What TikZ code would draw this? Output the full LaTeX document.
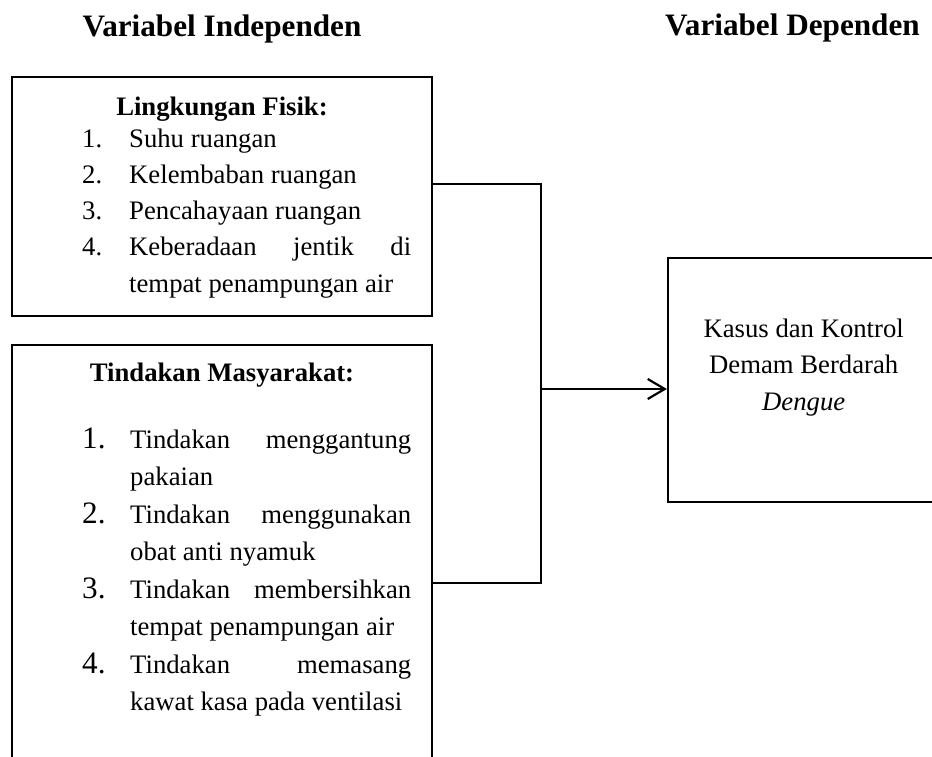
\documentclass[tikz,border=0pt]{standalone}
\usepackage{fontspec}
\setmainfont{Liberation Serif}
\usetikzlibrary{arrows.meta}
\newcommand{\bodyfont}{\fontsize{26.7pt}{36pt}\selectfont}
\newcommand{\headfont}{\fontsize{31.2pt}{38pt}\selectfont\bfseries}
\newcommand{\numfont}{\fontsize{31.2pt}{38pt}\selectfont}
\begin{document}
\begin{tikzpicture}[x=1pt,y=-1pt,
  frame/.style={draw, line width=2.2pt, inner sep=0pt},
  txt/.style={inner sep=0pt, anchor=base west, font=\bodyfont},
  ctr/.style={inner sep=0pt, anchor=base, font=\bodyfont},
  bignum/.style={inner sep=0pt, anchor=base west, font=\numfont},
  head/.style={inner sep=0pt, anchor=base, font=\headfont},
  sub/.style={inner sep=0pt, anchor=base, font=\bodyfont\bfseries},
  link/.style={line width=2.2pt}]
\useasboundingbox (0,0) rectangle (932,756);
\clip (0,0) rectangle (932,756);

% headings
\node[head] (hind) at (222,36) {Variabel Independen};
\node[head] (hdep) at (792.5,35.5) {Variabel Dependen};

% boxes
\node[frame, minimum width=420pt, minimum height=239pt] (fisik) at (222,196.5) {};
\node[frame, minimum width=420pt, minimum height=435pt] (masy) at (222,562.5) {};
\node[frame, minimum width=277pt, minimum height=244pt] (dep) at (806.5,379.7) {};

% box 1 text
\node[sub] (f0) at (222,115) {Lingkungan Fisik:};
\node[txt] (f1n) at (82,147) {1.};
\node[txt] (f1) at (129,147) {Suhu ruangan};
\node[txt] (f2n) at (82,183.3) {2.};
\node[txt] (f2) at (129,183.3) {Kelembaban ruangan};
\node[txt] (f3n) at (82,219.5) {3.};
\node[txt] (f3) at (129,219.5) {Pencahayaan ruangan};
\node[txt] (f4n) at (82,255.8) {4.};
\node[txt] (f4) at (129,255.8) {\hbox to 282pt{Keberadaan\hfill jentik\hfill di}};
\node[txt] (f4b) at (129,292) {tempat penampungan air};

% box 2 text
\node[sub] (m0) at (222,381.7) {Tindakan Masyarakat:};
\node[bignum] (m1n) at (82,448) {1.};
\node[txt] (m1) at (130,448) {\hbox to 281pt{Tindakan\hfill menggantung}};
\node[txt] (m1b) at (130,485.5) {pakaian};
\node[bignum] (m2n) at (82,523) {2.};
\node[txt] (m2) at (130,523) {\hbox to 281pt{Tindakan\hfill menggunakan}};
\node[txt] (m2b) at (130,560.5) {obat anti nyamuk};
\node[bignum] (m3n) at (82,598) {3.};
\node[txt] (m3) at (130,598) {\hbox to 281pt{Tindakan\hfill membersihkan}};
\node[txt] (m3b) at (130,635.5) {tempat penampungan air};
\node[bignum] (m4n) at (82,673) {4.};
\node[txt] (m4) at (130,673) {\hbox to 281pt{Tindakan\hfill memasang}};
\node[txt] (m4b) at (130,710.5) {kawat kasa pada ventilasi};

% dependent box text
\node[ctr] (d1) at (803.7,337.3) {Kasus dan Kontrol};
\node[ctr] (d2) at (803.7,373.8) {Demam Berdarah};
\node[ctr] (d3) at (803.7,410.3) {\itshape Dengue};

% connectors
\coordinate (jtop) at (540.7,184);
\coordinate (jbot) at (540.7,583);
\coordinate (jmid) at (540.7,389);
\draw[link] (fisik.east |- jtop) -- (jtop) -- (jbot) -- (masy.east |- jbot);
\draw[link, -{Straight Barb[length=17pt,width=20pt]}] (jmid) -- (dep.west |- jmid);
\end{tikzpicture}
\end{document}
